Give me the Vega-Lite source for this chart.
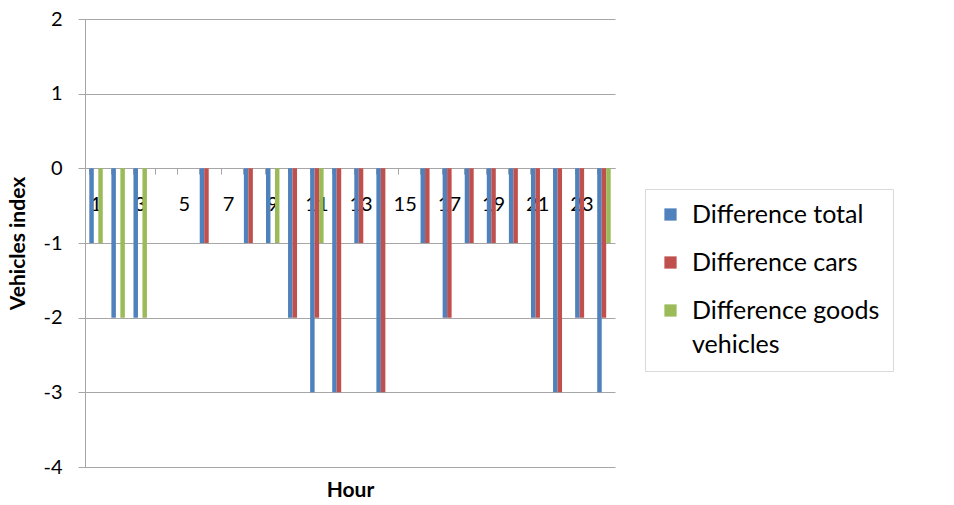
{
  "$schema": "https://vega.github.io/schema/vega-lite/v6.json",
  "width": 530,
  "height": 448,
  "autosize": {"type": "none"},
  "padding": {"left": 85, "top": 19, "right": 339, "bottom": 38},
  "config": {
    "font": "Lato",
    "view": {"stroke": null},
    "axis": {"labelColor": "#000000", "titleColor": "#000000"},
    "style": {"guide-label": {"lineHeight": 34}}
  },
  "data": {
    "values": [
      {"hour": 1, "series": "Difference total", "value": -1},
      {"hour": 1, "series": "Difference cars", "value": 0},
      {"hour": 1, "series": "Difference goods vehicles", "value": -1},
      {"hour": 2, "series": "Difference total", "value": -2},
      {"hour": 2, "series": "Difference cars", "value": 0},
      {"hour": 2, "series": "Difference goods vehicles", "value": -2},
      {"hour": 3, "series": "Difference total", "value": -2},
      {"hour": 3, "series": "Difference cars", "value": 0},
      {"hour": 3, "series": "Difference goods vehicles", "value": -2},
      {"hour": 4, "series": "Difference total", "value": 0},
      {"hour": 4, "series": "Difference cars", "value": 0},
      {"hour": 4, "series": "Difference goods vehicles", "value": 0},
      {"hour": 5, "series": "Difference total", "value": 0},
      {"hour": 5, "series": "Difference cars", "value": 0},
      {"hour": 5, "series": "Difference goods vehicles", "value": 0},
      {"hour": 6, "series": "Difference total", "value": -1},
      {"hour": 6, "series": "Difference cars", "value": -1},
      {"hour": 6, "series": "Difference goods vehicles", "value": 0},
      {"hour": 7, "series": "Difference total", "value": 0},
      {"hour": 7, "series": "Difference cars", "value": 0},
      {"hour": 7, "series": "Difference goods vehicles", "value": 0},
      {"hour": 8, "series": "Difference total", "value": -1},
      {"hour": 8, "series": "Difference cars", "value": -1},
      {"hour": 8, "series": "Difference goods vehicles", "value": 0},
      {"hour": 9, "series": "Difference total", "value": -1},
      {"hour": 9, "series": "Difference cars", "value": 0},
      {"hour": 9, "series": "Difference goods vehicles", "value": -1},
      {"hour": 10, "series": "Difference total", "value": -2},
      {"hour": 10, "series": "Difference cars", "value": -2},
      {"hour": 10, "series": "Difference goods vehicles", "value": 0},
      {"hour": 11, "series": "Difference total", "value": -3},
      {"hour": 11, "series": "Difference cars", "value": -2},
      {"hour": 11, "series": "Difference goods vehicles", "value": -1},
      {"hour": 12, "series": "Difference total", "value": -3},
      {"hour": 12, "series": "Difference cars", "value": -3},
      {"hour": 12, "series": "Difference goods vehicles", "value": 0},
      {"hour": 13, "series": "Difference total", "value": -1},
      {"hour": 13, "series": "Difference cars", "value": -1},
      {"hour": 13, "series": "Difference goods vehicles", "value": 0},
      {"hour": 14, "series": "Difference total", "value": -3},
      {"hour": 14, "series": "Difference cars", "value": -3},
      {"hour": 14, "series": "Difference goods vehicles", "value": 0},
      {"hour": 15, "series": "Difference total", "value": 0},
      {"hour": 15, "series": "Difference cars", "value": 0},
      {"hour": 15, "series": "Difference goods vehicles", "value": 0},
      {"hour": 16, "series": "Difference total", "value": -1},
      {"hour": 16, "series": "Difference cars", "value": -1},
      {"hour": 16, "series": "Difference goods vehicles", "value": 0},
      {"hour": 17, "series": "Difference total", "value": -2},
      {"hour": 17, "series": "Difference cars", "value": -2},
      {"hour": 17, "series": "Difference goods vehicles", "value": 0},
      {"hour": 18, "series": "Difference total", "value": -1},
      {"hour": 18, "series": "Difference cars", "value": -1},
      {"hour": 18, "series": "Difference goods vehicles", "value": 0},
      {"hour": 19, "series": "Difference total", "value": -1},
      {"hour": 19, "series": "Difference cars", "value": -1},
      {"hour": 19, "series": "Difference goods vehicles", "value": 0},
      {"hour": 20, "series": "Difference total", "value": -1},
      {"hour": 20, "series": "Difference cars", "value": -1},
      {"hour": 20, "series": "Difference goods vehicles", "value": 0},
      {"hour": 21, "series": "Difference total", "value": -2},
      {"hour": 21, "series": "Difference cars", "value": -2},
      {"hour": 21, "series": "Difference goods vehicles", "value": 0},
      {"hour": 22, "series": "Difference total", "value": -3},
      {"hour": 22, "series": "Difference cars", "value": -3},
      {"hour": 22, "series": "Difference goods vehicles", "value": 0},
      {"hour": 23, "series": "Difference total", "value": -2},
      {"hour": 23, "series": "Difference cars", "value": -2},
      {"hour": 23, "series": "Difference goods vehicles", "value": 0},
      {"hour": 24, "series": "Difference total", "value": -3},
      {"hour": 24, "series": "Difference cars", "value": -2},
      {"hour": 24, "series": "Difference goods vehicles", "value": -1}
    ]
  },
  "mark": {"type": "bar"},
  "encoding": {
    "x": {
      "field": "hour",
      "type": "ordinal",
      "scale": {
        "domain": [1, 2, 3, 4, 5, 6, 7, 8, 9, 10, 11, 12, 13, 14, 15, 16, 17, 18, 19, 20, 21, 22, 23, 24],
        "paddingInner": 0.39,
        "paddingOuter": 0.195
      },
      "axis": {
        "title": "Hour",
        "titleFontSize": 21,
        "titleFontWeight": "bold",
        "titleBaseline": "middle",
        "titleY": 322,
        "offset": -299,
        "bandPosition": 0,
        "labelAngle": 0,
        "labelOverlap": false,
        "labelExpr": "datum.value % 2 == 1 ? datum.label : ''",
        "labelPadding": 20,
        "labelFontSize": 20,
        "domainColor": "#a6a6a6",
        "tickColor": "#a6a6a6",
        "tickSize": 6,
        "grid": false
      }
    },
    "xOffset": {
      "field": "series",
      "type": "nominal",
      "scale": {"domain": ["Difference total", "Difference cars", "Difference goods vehicles"], "padding": 0}
    },
    "y": {
      "field": "value",
      "type": "quantitative",
      "scale": {"domain": [-4, 2], "nice": false},
      "axis": {
        "title": "Vehicles index",
        "titleFontSize": 21,
        "titleFontWeight": "bold",
        "titleX": -67,
        "titleBaseline": "middle",
        "values": [-4, -3, -2, -1, 0, 1, 2],
        "labelExpr": "'' + datum.value",
        "labelFontSize": 20,
        "labelPadding": 16,
        "tickSize": 7,
        "tickColor": "#a6a6a6",
        "domainColor": "#a6a6a6",
        "grid": true,
        "gridColor": "#a6a6a6",
        "gridOpacity": 1
      }
    },
    "color": {
      "field": "series",
      "type": "nominal",
      "scale": {
        "domain": ["Difference total", "Difference cars", "Difference goods vehicles"],
        "range": ["#4f81bd", "#c0504d", "#9bbb59"]
      },
      "legend": {
        "title": null,
        "orient": "none",
        "legendX": 560,
        "legendY": 170,
        "padding": 13,
        "strokeColor": "#d9d9d9",
        "symbolType": "square",
        "symbolSize": 150,
        "symbolStrokeWidth": 0,
        "labelFontSize": 25,
        "labelColor": "#000000",
        "labelOffset": 9,
        "labelLimit": 400,
        "rowPadding": 22,
        "labelExpr": "datum.label == 'Difference goods vehicles' ? ['Difference goods', 'vehicles'] : datum.label"
      }
    }
  }
}
